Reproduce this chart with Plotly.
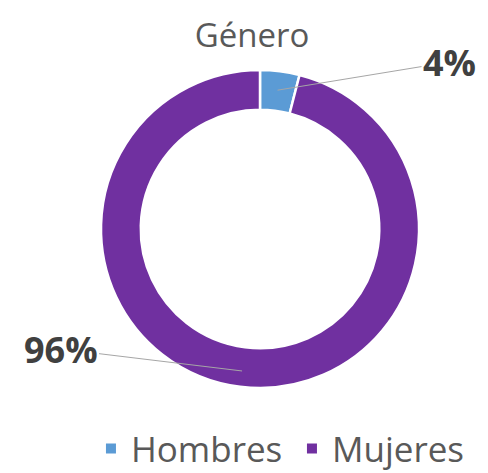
import math
import plotly.graph_objects as go

labels = ["Hombres", "Mujeres"]
values = [4, 96]
colors = ["#5B9BD5", "#7030A0"]
title_text = "Género"

W, H = 488, 473
dom_x = [93 / W, 411 / W]
dom_y = [93 / H, 411 / H]
hole = 0.75

fig = go.Figure(go.Pie(
    labels=labels, values=values, hole=hole, sort=False,
    direction="clockwise", rotation=0,
    marker=dict(colors=colors, line=dict(color="white", width=2.5)),
    textinfo="none", hoverinfo="label+percent",
    domain=dict(x=dom_x, y=dom_y),
))

# label annotations derived from values
total = sum(values)
cx = (dom_x[0] + dom_x[1]) / 2 * W
cy = (1 - (dom_y[0] + dom_y[1]) / 2) * H
R = min((dom_x[1] - dom_x[0]) * W, (dom_y[1] - dom_y[0]) * H) / 2
label_pos = [(441.5, 54), (52.5, 341)]   # label centres (px)
tip_r = [0.88, 0.90]
cum = 0
anns = []
for i, v in enumerate(values):
    mid = (cum + v / 2) / total * 2 * math.pi
    cum += v
    r = R * tip_r[i]
    px = cx + r * math.sin(mid)
    py = cy - r * math.cos(mid)
    anns.append(dict(
        x=px / W, y=1 - py / H, xref="paper", yref="paper",
        text=f"<b>{round(v / total * 100)}%</b>", showarrow=True,
        arrowhead=0, arrowwidth=1, arrowcolor="#A6A6A6",
        ax=label_pos[i][0] - px, ay=label_pos[i][1] - py, standoff=0,
        font=dict(family="Open Sans", size=36, color="#404040"),
    ))

fig.update_layout(
    width=W, height=H,
    margin=dict(l=0, r=0, t=0, b=0),
    paper_bgcolor="white", plot_bgcolor="white",
    title=dict(text=title_text, x=0.5, xanchor="center", y=1 - 27.5 / H, yanchor="middle",
               font=dict(family="Open Sans", size=33, color="#595959")),
    legend=dict(orientation="h", x=0.17, xanchor="left", y=0.006, yanchor="bottom",
                font=dict(family="Open Sans", size=35, color="#595959"),
                bgcolor="rgba(0,0,0,0)",
                entrywidth=156, entrywidthmode="pixels",
                itemsizing="constant"),
    annotations=anns,
    showlegend=True,
)

fig.write_html("out.html")
